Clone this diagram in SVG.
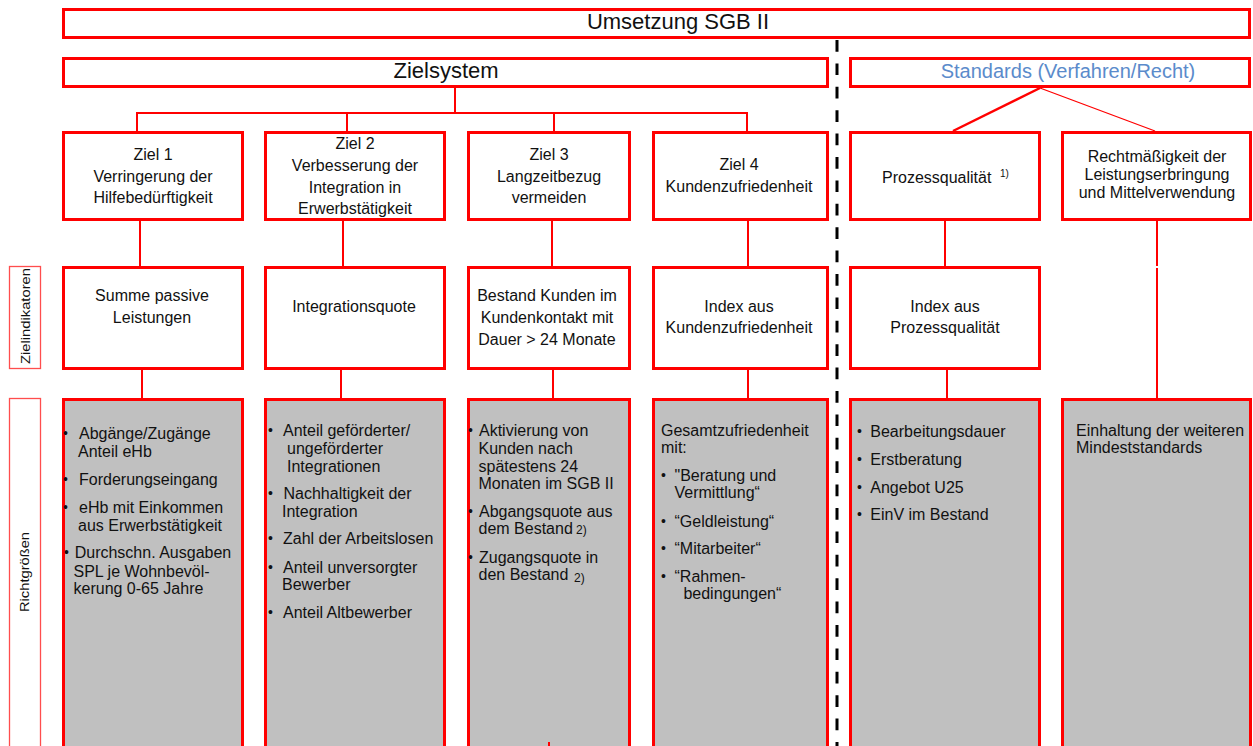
<svg xmlns="http://www.w3.org/2000/svg" width="1253" height="746" viewBox="0 0 1253 746">
<style>
.box{fill:#fff;stroke:#ff0000;stroke-width:3}
.gbox{fill:#c0c0c0;stroke:#ff0000;stroke-width:3}
.side{fill:#fff;stroke:#ff4d4d;stroke-width:1.3}
.c{stroke:#ff0000;stroke-width:2;fill:none}
.t{font-family:"Liberation Sans",Arial,sans-serif;font-size:16px;fill:#111}
.m{text-anchor:middle}
.b{font-family:"Liberation Sans",Arial,sans-serif;font-size:14px;fill:#111}
.s{font-family:"Liberation Sans",Arial,sans-serif;font-size:12px;fill:#111}
.sup{font-family:"Liberation Sans",Arial,sans-serif;font-size:10px;fill:#111}
.big{font-family:"Liberation Sans",Arial,sans-serif;font-size:22px;fill:#111;text-anchor:middle}
</style>
<rect width="1253" height="746" fill="#fff"/>

<g id="connectors">
<line class="c" x1="455" y1="88" x2="455" y2="113"/>
<line class="c" x1="136" y1="113" x2="748" y2="113"/>
<line class="c" x1="137" y1="112" x2="137" y2="131"/>
<line class="c" x1="347" y1="112" x2="347" y2="131"/>
<line class="c" x1="554" y1="112" x2="554" y2="131"/>
<line class="c" x1="747" y1="112" x2="747" y2="131"/>
<line x1="1040" y1="88" x2="953" y2="131" stroke="#ff0000" stroke-width="2.5"/>
<line x1="1040" y1="88" x2="1155" y2="131" stroke="#ff0000" stroke-width="1.3"/>
<line class="c" x1="140" y1="221" x2="140" y2="266"/>
<line class="c" x1="343" y1="221" x2="343" y2="266"/>
<line class="c" x1="552" y1="221" x2="552" y2="266"/>
<line class="c" x1="748" y1="221" x2="748" y2="266"/>
<line class="c" x1="945" y1="221" x2="945" y2="266"/>
<line class="c" x1="1157" y1="221" x2="1157" y2="266"/>
<line class="c" x1="1157" y1="268" x2="1157" y2="398"/>
<line class="c" x1="142" y1="370" x2="142" y2="398"/>
<line class="c" x1="341" y1="370" x2="341" y2="398"/>
<line class="c" x1="553" y1="370" x2="553" y2="398"/>
<line class="c" x1="748" y1="370" x2="748" y2="398"/>
<line class="c" x1="947" y1="370" x2="947" y2="398"/>
<line x1="837" y1="40" x2="837" y2="746" stroke="#000" stroke-width="3" stroke-dasharray="11.7 11.7"/>
</g>

<g id="top">
<rect class="box" x="63.5" y="9.5" width="1186" height="28"/>
<text class="big" x="678" y="29">Umsetzung SGB II</text>
</g>
<g id="zielsystem">
<rect class="box" x="63.5" y="58.5" width="764" height="28"/>
<text class="big" x="446" y="78">Zielsystem</text>
</g>
<g id="standards">
<rect class="box" x="850.5" y="58.5" width="399" height="28"/>
<text x="1068" y="78" text-anchor="middle" font-family="Liberation Sans, Arial, sans-serif" font-size="20" fill="#5b8bcb">Standards (Verfahren/Recht)</text>
</g>

<g id="ziel1">
<rect class="box" x="63.5" y="132.5" width="179" height="87"/>
<text class="t m" x="153" y="159.5">Ziel 1</text>
<text class="t m" x="153" y="181.5">Verringerung der</text>
<text class="t m" x="153" y="203">Hilfebedürftigkeit</text>
</g>
<g id="ziel2">
<rect class="box" x="265.5" y="132.5" width="179" height="87"/>
<text class="t m" x="355" y="149">Ziel 2</text>
<text class="t m" x="355" y="171">Verbesserung der</text>
<text class="t m" x="355" y="192.7">Integration in</text>
<text class="t m" x="355" y="214.4">Erwerbstätigkeit</text>
</g>
<g id="ziel3">
<rect class="box" x="468.5" y="132.5" width="161" height="87"/>
<text class="t m" x="549" y="159.5">Ziel 3</text>
<text class="t m" x="549" y="181.5">Langzeitbezug</text>
<text class="t m" x="549" y="203">vermeiden</text>
</g>
<g id="ziel4">
<rect class="box" x="653.5" y="132.5" width="174" height="87"/>
<text class="t m" x="739" y="170">Ziel 4</text>
<text class="t m" x="739" y="192">Kundenzufriedenheit</text>
</g>
<g id="prozessqualitaet">
<rect class="box" x="850.5" y="132.5" width="189" height="87"/>
<text class="t" x="882" y="183">Prozessqualität</text>
<text class="sup" x="1000" y="177">1)</text>
</g>
<g id="rechtmaessigkeit">
<rect class="box" x="1062.5" y="132.5" width="188" height="87"/>
<text class="t m" x="1157" y="161.5">Rechtmäßigkeit der</text>
<text class="t m" x="1157" y="179.5">Leistungserbringung</text>
<text class="t m" x="1157" y="197.5">und Mittelverwendung</text>
</g>

<g id="label-zielindikatoren">
<rect class="side" x="9.5" y="266.5" width="31" height="102"/>
<text x="0" y="0" transform="translate(29.5,316) rotate(-90)" text-anchor="middle" font-family="Liberation Sans, Arial, sans-serif" font-size="13" fill="#111" textLength="96" lengthAdjust="spacingAndGlyphs">Zielindikatoren</text>
</g>
<g id="ind1">
<rect class="box" x="63.5" y="267.5" width="179" height="101"/>
<text class="t m" x="152" y="301">Summe passive</text>
<text class="t m" x="152" y="322.5">Leistungen</text>
</g>
<g id="ind2">
<rect class="box" x="265.5" y="267.5" width="179" height="101"/>
<text class="t m" x="354" y="311.5">Integrationsquote</text>
</g>
<g id="ind3">
<rect class="box" x="468.5" y="267.5" width="161" height="101"/>
<text class="t m" x="547" y="301">Bestand Kunden im</text>
<text class="t m" x="547" y="323">Kundenkontakt mit</text>
<text class="t m" x="547" y="345">Dauer &gt; 24 Monate</text>
</g>
<g id="ind4">
<rect class="box" x="653.5" y="267.5" width="174" height="101"/>
<text class="t m" x="739" y="311.5">Index aus</text>
<text class="t m" x="739" y="333">Kundenzufriedenheit</text>
</g>
<g id="ind5">
<rect class="box" x="850.5" y="267.5" width="189" height="101"/>
<text class="t m" x="945" y="311.5">Index aus</text>
<text class="t m" x="945" y="333">Prozessqualität</text>
</g>

<g id="label-richtgroessen">
<rect class="side" x="9.5" y="398.5" width="31" height="360"/>
<text x="0" y="0" transform="translate(28.5,572) rotate(-90)" text-anchor="middle" font-family="Liberation Sans, Arial, sans-serif" font-size="13" fill="#111" textLength="80" lengthAdjust="spacingAndGlyphs">Richtgrößen</text>
</g>
<g id="rg1">
<rect class="gbox" x="63.5" y="399.5" width="179" height="360"/>
<text class="b" x="63" y="438">•</text>
<text class="t" x="79" y="439">Abgänge/Zugänge</text>
<text class="t" x="78" y="457">Anteil eHb</text>
<text class="b" x="63" y="484">•</text>
<text class="t" x="79" y="485">Forderungseingang</text>
<text class="b" x="63" y="511.7">•</text>
<text class="t" x="79" y="512.7">eHb mit Einkommen</text>
<text class="t" x="78" y="530.7">aus Erwerbstätigkeit</text>
<text class="b" x="64" y="557">•</text>
<text class="t" x="74.7" y="558.3">Durchschn. Ausgaben</text>
<text class="t" x="73.5" y="576.7">SPL je Wohnbevöl-</text>
<text class="t" x="73.5" y="594.3">kerung 0-65 Jahre</text>
</g>
<g id="rg2">
<rect class="gbox" x="265.5" y="399.5" width="179" height="360"/>
<text class="b" x="268" y="435">•</text>
<text class="t" x="283" y="436">Anteil geförderter/</text>
<text class="t" x="287" y="454">ungeförderter</text>
<text class="t" x="287" y="471.7">Integrationen</text>
<text class="b" x="268" y="498">•</text>
<text class="t" x="283.5" y="499">Nachhaltigkeit der</text>
<text class="t" x="282" y="516.7">Integration</text>
<text class="b" x="268" y="543.3">•</text>
<text class="t" x="283" y="544.3">Zahl der Arbeitslosen</text>
<text class="b" x="268" y="571.7">•</text>
<text class="t" x="283" y="572.7">Anteil unversorgter</text>
<text class="t" x="282" y="590">Bewerber</text>
<text class="b" x="268" y="616.7">•</text>
<text class="t" x="283" y="617.7">Anteil Altbewerber</text>
</g>
<g id="rg3">
<rect class="gbox" x="468.5" y="399.5" width="161" height="360"/>
<text class="b" x="468" y="435">•</text>
<text class="t" x="479" y="436">Aktivierung von</text>
<text class="t" x="478.5" y="454">Kunden nach</text>
<text class="t" x="478.5" y="471.7">spätestens 24</text>
<text class="t" x="478.5" y="489">Monaten im SGB II</text>
<text class="b" x="468" y="515.7">•</text>
<text class="t" x="479" y="516.7">Abgangsquote aus</text>
<text class="t" x="478.5" y="534.3">dem Bestand</text>
<text class="s" x="576" y="534.3">2)</text>
<text class="b" x="468" y="561.7">•</text>
<text class="t" x="479" y="562.7">Zugangsquote in</text>
<text class="t" x="478.5" y="580">den Bestand</text>
<text class="s" x="574" y="582">2)</text>
<line x1="549" y1="742" x2="549" y2="746" stroke="#ff0000" stroke-width="2"/>
</g>
<g id="rg4">
<rect class="gbox" x="653.5" y="399.5" width="174" height="360"/>
<text class="t" x="661" y="436">Gesamtzufriedenheit</text>
<text class="t" x="661" y="453.3">mit:</text>
<text class="b" x="661" y="479.7">•</text>
<text class="t" x="674.5" y="480.7">"Beratung und</text>
<text class="t" x="674.5" y="498.3">Vermittlung“</text>
<text class="b" x="661" y="525.7">•</text>
<text class="t" x="674.5" y="526.7">“Geldleistung“</text>
<text class="b" x="661" y="553">•</text>
<text class="t" x="674.5" y="554">“Mitarbeiter“</text>
<text class="b" x="661" y="580.7">•</text>
<text class="t" x="674.5" y="581.7">“Rahmen-</text>
<text class="t" x="683.4" y="599.3">bedingungen“</text>
</g>
<g id="rg5">
<rect class="gbox" x="850.5" y="399.5" width="189" height="360"/>
<text class="b" x="857" y="436.3">•</text>
<text class="t" x="870.3" y="437.3">Bearbeitungsdauer</text>
<text class="b" x="857" y="464">•</text>
<text class="t" x="870.3" y="465">Erstberatung</text>
<text class="b" x="857" y="491.7">•</text>
<text class="t" x="870.3" y="492.7">Angebot U25</text>
<text class="b" x="857" y="519">•</text>
<text class="t" x="870.3" y="520">EinV im Bestand</text>
</g>
<g id="rg6">
<rect class="gbox" x="1062.5" y="399.5" width="188" height="360"/>
<text class="t" x="1076" y="436">Einhaltung der weiteren</text>
<text class="t" x="1076" y="453.3">Mindeststandards</text>
</g>
</svg>
